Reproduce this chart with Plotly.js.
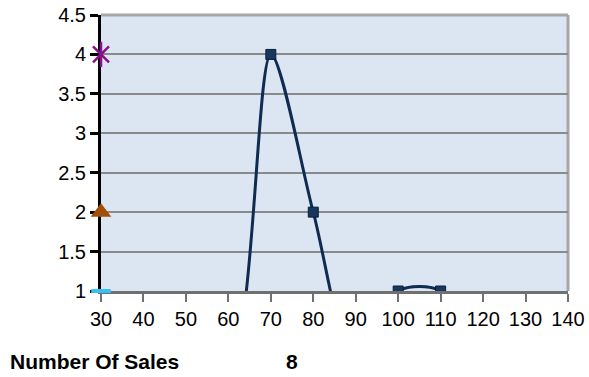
<!DOCTYPE html>
<html>
<head>
<meta charset="utf-8">
<script src="https://cdn.plot.ly/plotly-3.0.1.min.js"></script>
<style>html,body{margin:0;padding:0;background:#fff;}#chart{width:589px;height:377px;}</style>
</head>
<body>
<div id="chart"></div>
<script>
// Categories (x values)
const categories = [30, 40, 50, 60, 70, 80, 90, 100, 110, 120, 130, 140];
// Main series (smoothed line)
const salesValues = [0, 0, 0, 0, 4, 2, 0, 1, 1, 0, 0, 0];
// Single-point series at first category
const starX = [30];  const starY = [4];
const triX = [30];   const triY = [2];
const dashX = [30];  const dashY = [1];
// Axis ticks
const yTicks = [1, 1.5, 2, 2.5, 3, 3.5, 4, 4.5];
const yTickText = ['1', '1.5', '2', '2.5', '3', '3.5', '4', '4.5'];
// Footer texts
const footerLabel = 'Number Of Sales';
const footerValue = '8';

const traces = [
  {
    x: categories, y: salesValues, type: 'scatter', mode: 'lines+markers',
    line: {shape: 'spline', smoothing: 0.8, color: '#0f2b52', width: 3},
    marker: {symbol: 'square', size: 10, color: '#17375e', line: {color: '#0a1f3d', width: 1}},
    cliponaxis: true, showlegend: false, hoverinfo: 'skip'
  },
  {
    x: dashX, y: dashY, type: 'scatter', mode: 'markers', cliponaxis: false,
    marker: {symbol: 'line-ew', size: 14, line: {color: '#33c3f2', width: 4}},
    showlegend: false, hoverinfo: 'skip'
  },
  {
    x: triX, y: triY, type: 'scatter', mode: 'markers', cliponaxis: false,
    marker: {symbol: 'triangle-up', size: 18, color: '#a34e06', line: {width: 0}},
    showlegend: false, hoverinfo: 'skip'
  },
  {
    x: starX, y: starY, type: 'scatter', mode: 'markers', cliponaxis: false,
    marker: {symbol: 'x-thin', size: 16, line: {color: '#8b0f8b', width: 2.5}},
    showlegend: false, hoverinfo: 'skip'
  },
  {
    x: starX, y: starY, type: 'scatter', mode: 'markers', cliponaxis: false,
    marker: {symbol: 'line-ns', size: 18, line: {color: '#8b0f8b', width: 2.5}},
    showlegend: false, hoverinfo: 'skip'
  }
];

const layout = {
  width: 589, height: 377,
  margin: {l: 101, r: 21, t: 15, b: 86, pad: 0},
  paper_bgcolor: '#ffffff',
  plot_bgcolor: '#dce6f2',
  font: {family: '"Liberation Sans", Arial, sans-serif', size: 20, color: '#000'},
  xaxis: {
    range: [30, 140], tick0: 30, dtick: 10, tickmode: 'linear',
    showgrid: false, zeroline: false, layer: 'below traces',
    showline: true, linecolor: '#707070', linewidth: 3,
    ticks: 'outside', ticklen: 8, tickwidth: 2, tickcolor: '#707070',
    tickfont: {size: 20, color: '#000'}
  },
  yaxis: {
    range: [1, 4.5], tickmode: 'array', tickvals: yTicks, ticktext: yTickText,
    showgrid: true, gridcolor: '#8a8a8a', gridwidth: 2, zeroline: false, layer: 'below traces',
    showline: true, linecolor: '#000', linewidth: 3,
    ticks: 'outside', ticklen: 8, tickwidth: 3, tickcolor: '#000',
    tickfont: {size: 20, color: '#000'}
  },
  shapes: [
    {type: 'line', xref: 'paper', yref: 'paper', x0: 0, x1: 1, y0: 1, y1: 1, line: {color: '#a6a6a6', width: 3}, layer: 'below'},
    {type: 'line', xref: 'paper', yref: 'paper', x0: 1, x1: 1, y0: 0, y1: 1, line: {color: '#a6a6a6', width: 3}, layer: 'below'}
  ],
  annotations: [
    {text: footerLabel, xref: 'paper', yref: 'paper', x: -0.1991, y: -0.2554, xanchor: 'left', yanchor: 'middle', showarrow: false, font: {size: 21, color: '#000', weight: 'bold'}},
    {text: footerValue, xref: 'paper', yref: 'paper', x: 0.410, y: -0.2554, xanchor: 'center', yanchor: 'middle', showarrow: false, font: {size: 21, color: '#000', weight: 'bold'}}
  ]
};

Plotly.newPlot('chart', traces, layout, {staticPlot: true, displayModeBar: false});
</script>
</body>
</html>
